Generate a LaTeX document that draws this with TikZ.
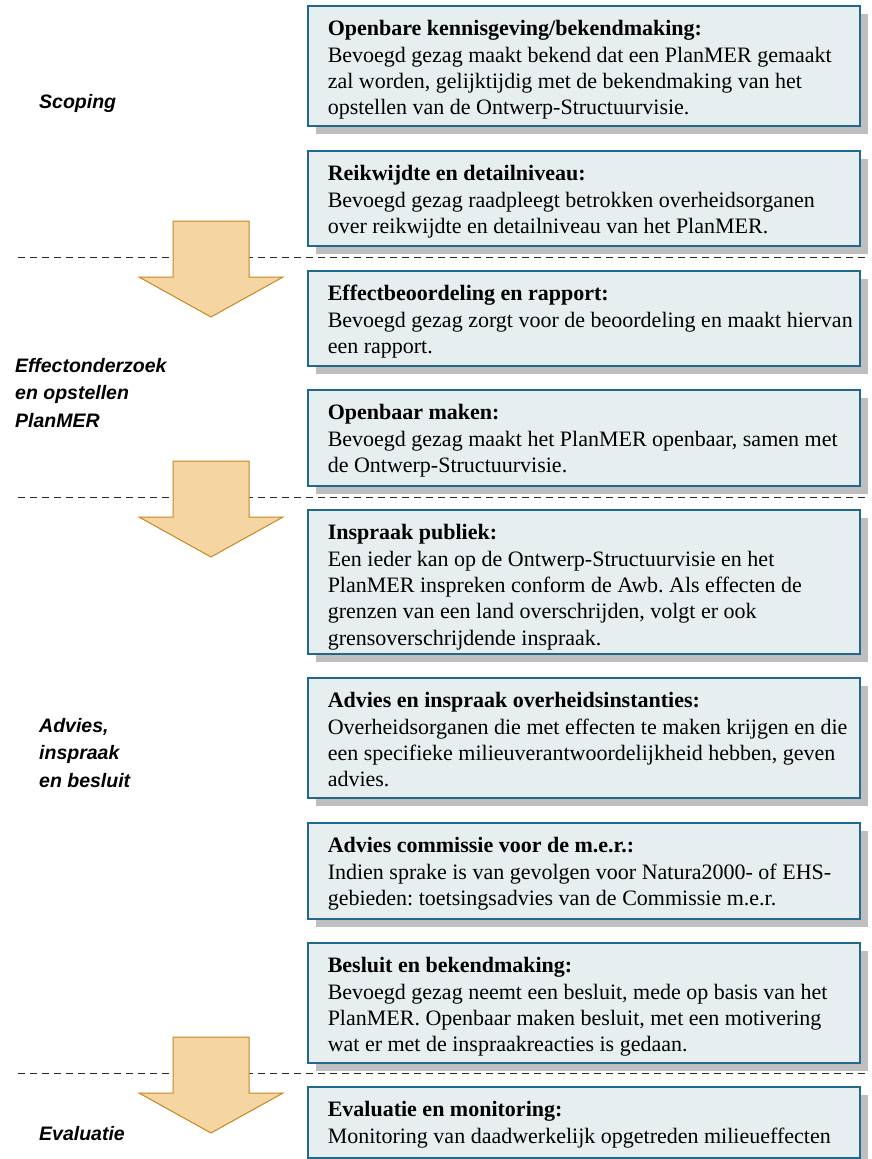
\documentclass[tikz,border=0pt]{standalone}
\usepackage{fontspec}
\setmainfont{Liberation Serif}
\newfontfamily\lblfont{Liberation Sans}
\usetikzlibrary{shadows}
\frenchspacing
\definecolor{boxline}{HTML}{21698C}
\definecolor{boxfill}{HTML}{E6EEF0}
\definecolor{shadowgray}{HTML}{BFBFBF}
\definecolor{arrowfill}{HTML}{F5D6A2}
\definecolor{arrowline}{HTML}{C9861E}
\newcommand{\bxt}[3]{\hspace*{20pt}\parbox[b][#1][t]{532pt}{\raggedright\frenchspacing\rule{0pt}{30pt}\textbf{#2}\\#3}}
\tikzset{
  stepbox/.style={draw=boxline, fill=boxfill, line width=1.5pt, anchor=north west,
    inner sep=0pt, minimum width=552pt,
    font=\fontsize{22}{26.4}\selectfont,
    drop shadow={shadow xshift=8pt, shadow yshift=-8pt, fill=shadowgray, opacity=1}},
  phaseline/.style={draw=black!85, line width=0.9pt, dash pattern=on 7pt off 5pt},
  phaselabel/.style={anchor=base west, align=left, inner sep=0pt,
    font=\lblfont\bfseries\itshape\fontsize{19.5}{27.5}\selectfont},
  blockarrow/.style={draw=arrowline, fill=arrowfill, line width=1pt, line join=miter},
  downarrow/.pic={\path[blockarrow] (-38,-36) -- (38,-36) -- (38,20) -- (72,20) -- (0,60) -- (-72,20) -- (-38,20) -- cycle;}
}
\begin{document}
\begin{tikzpicture}[x=1pt,y=-1pt]
\useasboundingbox (0,0) rectangle (872,1159);

% phase separators
\draw[phaseline] (18,257) -- (867,257);
\draw[phaseline] (18,497) -- (867,497);
\draw[phaseline] (18,1073) -- (867,1073);

% phase labels (base = baseline of last line)
\node[phaselabel] (lscope) at (39,108) {Scoping};
\node[phaselabel] (leffect) at (15,427) {Effectonderzoek\\en opstellen\\PlanMER};
\node[phaselabel] (ladvies) at (39,787) {Advies,\\inspraak\\en besluit};
\node[phaselabel] (leval) at (39,1140) {Evaluatie};

% step boxes
\node[stepbox] (b1) at (307,5) {\bxt{120pt}{Openbare kennisgeving/bekendmaking:}{Bevoegd gezag maakt bekend dat een PlanMER gemaakt\\zal worden, gelijktijdig met de bekendmaking van het\\opstellen van de Ontwerp-Structuurvisie.}};
\node[stepbox] (b2) at (307,150) {\bxt{95pt}{Reikwijdte en detailniveau:}{Bevoegd gezag raadpleegt betrokken overheidsorganen\\over reikwijdte en detailniveau van het PlanMER.}};
\node[stepbox] (b3) at (307,270) {\bxt{95pt}{Effectbeoordeling en rapport:}{Bevoegd gezag zorgt voor de beoordeling en maakt hiervan\\een rapport.}};
\node[stepbox] (b4) at (307,389) {\bxt{96pt}{Openbaar maken:}{Bevoegd gezag maakt het PlanMER openbaar, samen met\\de Ontwerp-Structuurvisie.}};
\node[stepbox] (b5) at (307,509) {\bxt{144pt}{Inspraak publiek:}{Een ieder kan op de Ontwerp-Structuurvisie en het\\PlanMER inspreken conform de Awb. Als effecten de\\grenzen van een land overschrijden, volgt er ook\\grensoverschrijdende inspraak.}};
\node[stepbox] (b6) at (307,677) {\bxt{120pt}{Advies en inspraak overheidsinstanties:}{Overheidsorganen die met effecten te maken krijgen en die\\een specifieke milieuverantwoordelijkheid hebben, geven\\advies.}};
\node[stepbox] (b7) at (307,822) {\bxt{96pt}{Advies commissie voor de m.e.r.:}{Indien sprake is van gevolgen voor Natura2000- of EHS-\\gebieden: toetsingsadvies van de Commissie m.e.r.}};
\node[stepbox] (b8) at (307,942) {\bxt{120pt}{Besluit en bekendmaking:}{Bevoegd gezag neemt een besluit, mede op basis van het\\PlanMER. Openbaar maken besluit, met een motivering\\wat er met de inspraakreacties is gedaan.}};
\node[stepbox] (b9) at (307,1086) {\bxt{71pt}{Evaluatie en monitoring:}{Monitoring van daadwerkelijk opgetreden milieueffecten}};

% phase transition arrows
\pic at (211,257) {downarrow};
\pic at (211,497) {downarrow};
\pic at (211,1073) {downarrow};
\end{tikzpicture}
\end{document}
